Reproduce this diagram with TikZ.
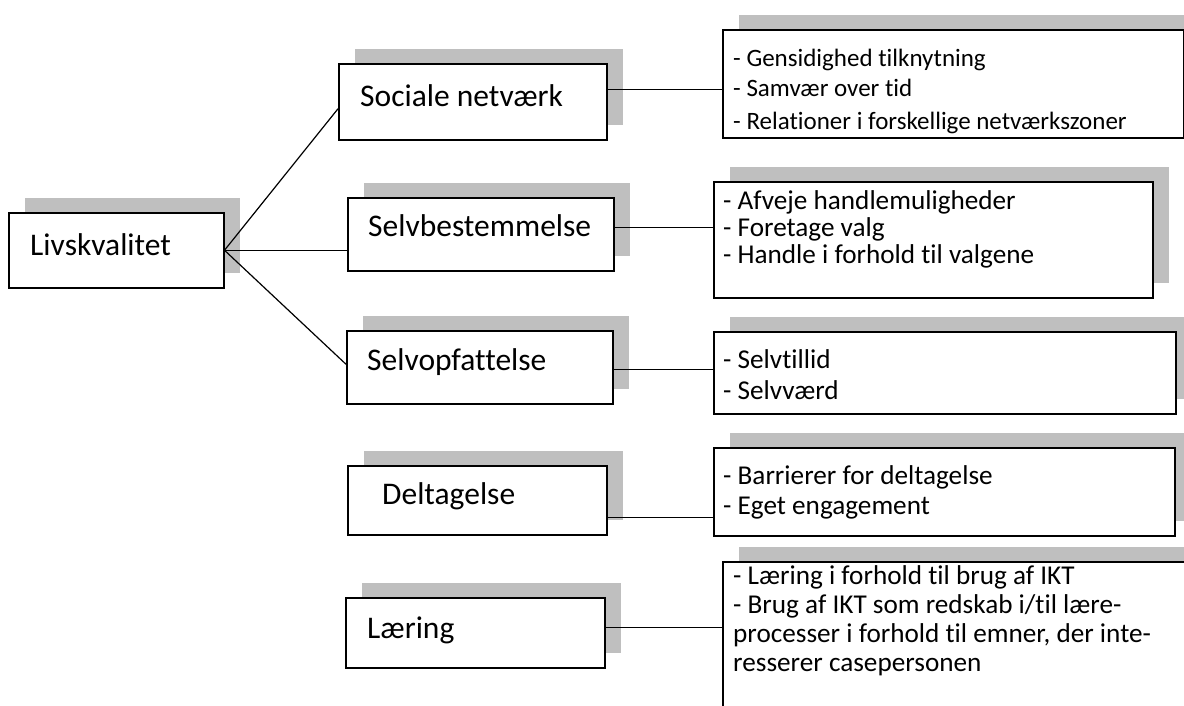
\documentclass[tikz,border=0pt]{standalone}
\usepackage{fontspec}
\setmainfont{Carlito}[Ligatures=CommonOff]
\usetikzlibrary{shadows}
\definecolor{shadowgray}{RGB}{191,191,191}

\begin{document}
\begin{tikzpicture}
[
	x=1pt, y=-1pt,
	catbox/.style={draw,line width=1.5pt,fill=white,anchor=north west,inner sep=0pt,
		drop shadow={shadow xshift=16pt,shadow yshift=15pt,fill=shadowgray,opacity=1}},
	cattext/.style={anchor=base west,inner sep=0pt,font=\fontsize{31.5}{38}\selectfont},
	itemtext/.style={anchor=base west,inner sep=0pt,font=\fontsize{27.2}{30}\selectfont},
	link/.style={draw,line width=1.2pt}
]
	\path[use as bounding box,clip] (0,0) rectangle (1184,705);

	% main box
	\node[catbox,minimum width=215pt,minimum height=75pt] (liv) at (8,212) {};
	\node[cattext] (livtxt) at ([shift={(22,43)}]liv.north west) {Livskvalitet};

	% category boxes
	\node[catbox,minimum width=268pt,minimum height=76pt] (soc) at (338,63) {};
	\node[cattext] (soctxt) at ([shift={(22,43)}]soc.north west) {Sociale netværk};
	\node[catbox,minimum width=266pt,minimum height=73pt] (selvb) at (347,197) {};
	\node[cattext] (selvbtxt) at ([shift={(21,39)}]selvb.north west) {Selvbestemmelse};
	\node[catbox,minimum width=266pt,minimum height=73pt] (selvo) at (346,330) {};
	\node[cattext] (selvotxt) at ([shift={(21,40)}]selvo.north west) {Selvopfattelse};
	\node[catbox,minimum width=259pt,minimum height=69pt] (delt) at (347,465) {};
	\node[cattext] (delttxt) at ([shift={(35,39)}]delt.north west) {Deltagelse};
	\node[catbox,minimum width=259pt,minimum height=70pt] (laer) at (345,597) {};
	\node[cattext] (laertxt) at ([shift={(22,41)}]laer.north west) {Læring};

	% detail boxes
	\node[catbox,minimum width=461pt,minimum height=108pt] (socr) at (722,29) {};
	\begin{scope}
		\clip ([yshift=1.5pt]socr.south west) rectangle (socr.north east);
		\foreach \ln/\dy [count=\i] in {- Gensidighed tilknytning/37,- Samvær over tid/67,- Relationer i forskellige netværkszoner/100} {
			\node[itemtext,font=\fontsize{25}{28}\selectfont] (socr-\i) at ([shift={(11,\dy)}]socr.north west) {\ln};
		}
	\end{scope}

	\node[catbox,minimum width=439pt,minimum height=116pt] (selvbr) at (713,181) {};
	\foreach \ln [count=\i] in {- Afveje handlemuligheder,- Foretage valg,- Handle i forhold til valgene} {
		\node[itemtext] (selvbr-\i) at ([shift={(10,{28+27*(\i-1)})}]selvbr.north west) {\ln};
	}

	\node[catbox,minimum width=462pt,minimum height=82pt] (selvor) at (713,331) {};
	\foreach \ln [count=\i] in {- Selvtillid,- Selvværd} {
		\node[itemtext] (selvor-\i) at ([shift={(10,{37+31*(\i-1)})}]selvor.north west) {\ln};
	}

	\node[catbox,minimum width=461pt,minimum height=88pt] (deltr) at (713,447) {};
	\foreach \ln [count=\i] in {- Barrierer for deltagelse,- Eget engagement} {
		\node[itemtext] (deltr-\i) at ([shift={(10,{37+30*(\i-1)})}]deltr.north west) {\ln};
	}

	\node[catbox,minimum width=480pt,minimum height=170pt] (laerr) at (722,561) {};
	\foreach \ln [count=\i] in {- Læring i forhold til brug af IKT,- Brug af IKT som redskab i/til lære-,{processer i forhold til emner, der inte-},resserer casepersonen} {
		\node[itemtext] (laerr-\i) at ([shift={(11,{23+29*(\i-1)})}]laerr.north west) {\ln};
	}

	% connectors
	\draw[link] (liv.east) -- ([yshift=-7pt]soc.west);
	\draw[link] (liv.east) -- (liv.east -| selvb.west);
	\draw[link] (liv.east) -- ([yshift=3pt]selvo.west);
	\draw[link] ([yshift=12pt]soc.east) -- ([yshift=12pt]soc.east -| socr.west);
	\draw[link] ([yshift=6.5pt]selvb.east) -- ([yshift=6.5pt]selvb.east -| selvbr.west);
	\draw[link] ([yshift=-2.5pt]selvo.east) -- ([yshift=-2.5pt]selvo.east -| selvor.west);
	\draw[link] ([yshift=-17.5pt]delt.east) -- ([yshift=-17.5pt]delt.east -| deltr.west);
	\draw[link] ([yshift=5pt]laer.east) -- ([yshift=5pt]laer.east -| laerr.west);

\end{tikzpicture}
\end{document}
